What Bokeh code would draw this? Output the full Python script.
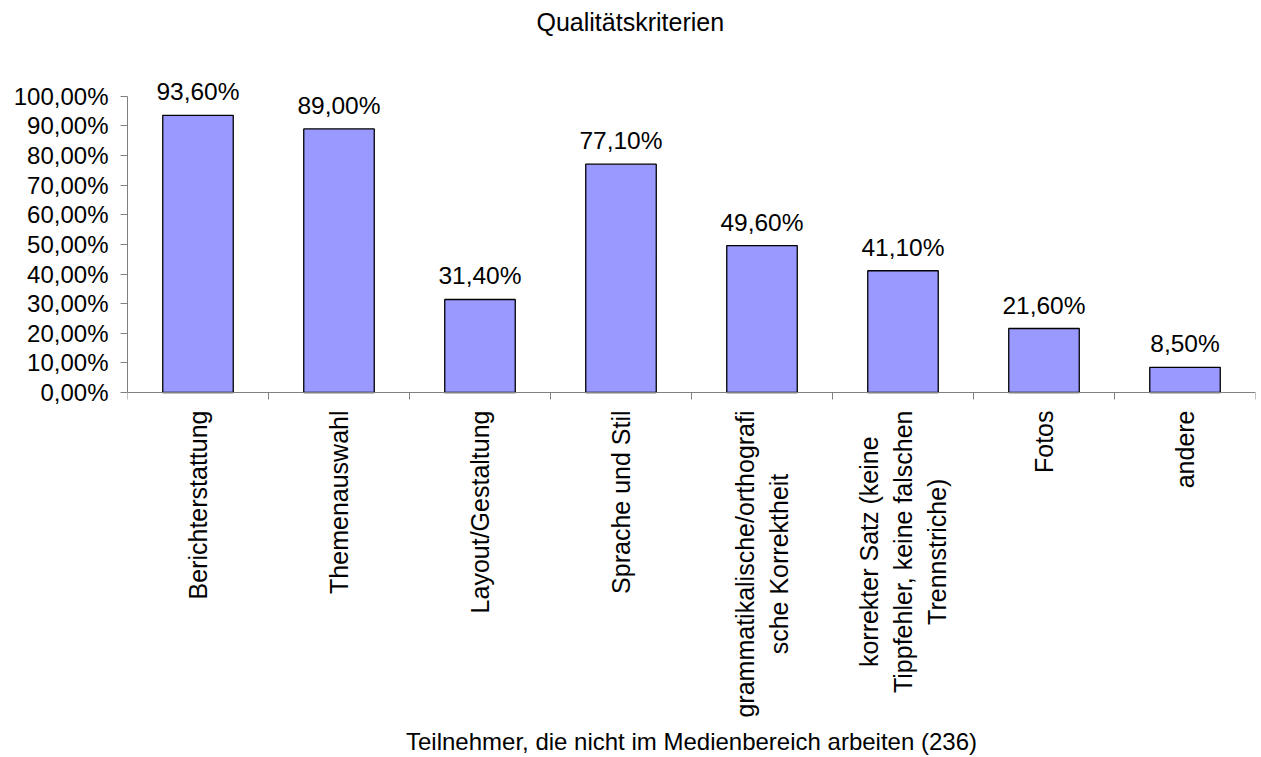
import math
from bokeh.plotting import figure
from bokeh.models import Range1d, FixedTicker, LabelSet, Label, ColumnDataSource, LinearAxis
from bokeh.core.properties import value
from bokeh.embed import file_html
from bokeh.resources import INLINE

# ---- data ----
chart_title = "Qualitätskriterien"
x_title = "Teilnehmer, die nicht im Medienbereich arbeiten (236)"
categories = [
    "Berichterstattung",
    "Themenauswahl",
    "Layout/Gestaltung",
    "Sprache und Stil",
    "grammatikalische/orthografi\nsche Korrektheit",
    "korrekter Satz (keine\nTippfehler, keine falschen\nTrennstriche)",
    "Fotos",
    "andere",
]
values = [93.6, 89.0, 31.4, 77.1, 49.6, 41.1, 21.6, 8.5]
y_ticks = [0, 10, 20, 30, 40, 50, 60, 70, 80, 90, 100]
y_tick_labels = ["0,00%", "10,00%", "20,00%", "30,00%", "40,00%", "50,00%",
                 "60,00%", "70,00%", "80,00%", "90,00%", "100,00%"]

FONT = "Liberation Sans"
positions = list(range(len(categories)))
value_texts = [("%.2f" % v).replace(".", ",") + "%" for v in values]

src = ColumnDataSource(dict(x=positions, top=values, label=value_texts))

PX_PER_UNIT = 2.97   # 297 px for 0..100 %
p = figure(
    width=1261, height=757,
    output_backend="svg", toolbar_location=None,
    x_range=Range1d(-0.5, -0.5 + 1128 / 141),
    y_range=Range1d(-(728 - 392) / PX_PER_UNIT, (392 - 39) / PX_PER_UNIT),
    min_border_left=127, min_border_right=6,
    min_border_top=39, min_border_bottom=29,
)
p.title.text = chart_title
p.title.align = "left"
p.title.offset = 409
p.title.text_font = FONT
p.title.text_font_size = "25px"
p.title.text_font_style = "normal"
p.title.text_color = "black"

p.outline_line_color = None
p.xgrid.grid_line_color = None
p.ygrid.grid_line_color = None
p.background_fill_color = "white"
p.border_fill_color = "white"

p.vbar(x="x", top="top", width=0.5, bottom=0, source=src,
       fill_color="#9999FF", line_color="black", line_width=1.3)

labels = LabelSet(x="x", y="top", text="label", source=src,
                  text_align="center", text_baseline="alphabetic", y_offset=15,
                  text_font=value(FONT), text_font_size=value("24.5px"),
                  text_color="black")
p.add_layout(labels)

# category labels: rotated, lines centered, block starting just below the axis
for xpos, cat in zip(positions, categories):
    p.add_layout(Label(
        x=xpos, y=0, y_offset=-18,
        text=cat, angle=math.pi / 2, anchor="center_right",
        text_align="center", text_line_height=1.2,
        text_font=FONT, text_font_size="25px", text_color="black",
    ))

# y axis
ya = p.yaxis[0]
ya.ticker = FixedTicker(ticks=y_ticks)
ya.major_label_overrides = {t: l for t, l in zip(y_ticks, y_tick_labels)}
ya.bounds = (0, 100)
ya.axis_line_color = "#808080"
ya.major_tick_line_color = "#808080"
ya.major_tick_out = 7
ya.major_tick_in = 0
ya.minor_tick_line_color = None
ya.major_label_standoff = 12
ya.major_label_text_font = FONT
ya.major_label_text_font_size = "24px"
ya.major_label_text_color = "black"

# x axis at 0 % (category boundary ticks)
xa = p.xaxis[0]
xa.fixed_location = 0
xa.ticker = FixedTicker(ticks=positions,
                        minor_ticks=[i - 0.5 for i in range(len(categories) + 1)])
xa.major_label_overrides = {i: "" for i in positions}
xa.axis_line_color = "#808080"
xa.major_tick_line_color = None
xa.major_tick_out = 0
xa.major_tick_in = 0
xa.minor_tick_line_color = "#808080"
xa.minor_tick_out = 7
xa.minor_tick_in = 0
xa.major_label_standoff = 0
xa.major_label_text_font_size = "1px"

# axis carrying the x title at the bottom
xt = LinearAxis(ticker=FixedTicker(ticks=[]), axis_line_color=None,
                major_tick_line_color=None, minor_tick_line_color=None,
                major_label_text_font_size="1px", major_label_standoff=0,
                axis_label=x_title, axis_label_standoff=0,
                axis_label_text_font=FONT, axis_label_text_font_size="24px",
                axis_label_text_font_style="normal", axis_label_text_color="black")
p.add_layout(xt, "below")

open("out.html", "w").write(file_html(p, INLINE))
